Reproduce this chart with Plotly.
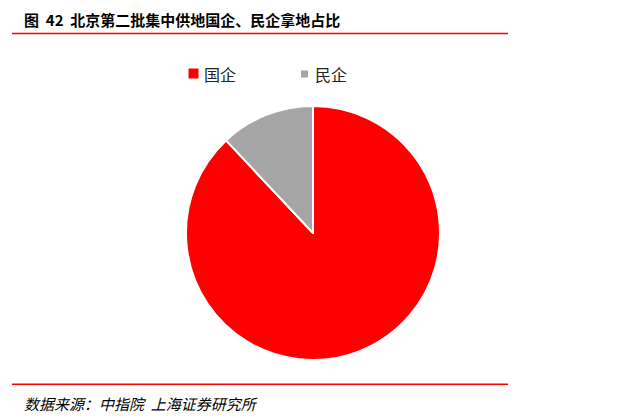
import plotly.graph_objects as go

labels = ["国企", "民企"]
values = [88, 12]
colors = ["#FF0000", "#A5A5A5"]

# The page body has an 8px margin; the figure is sized to fit inside the window.
W, H, OFF = 632, 410, 8
def px(x):
    return (x - OFF) / W
def py(y):
    return 1 - (y - OFF) / H

fig = go.Figure()
fig.add_trace(go.Pie(
    labels=labels, values=values, sort=False, direction="clockwise", rotation=0,
    marker=dict(colors=colors, line=dict(color="white", width=2)),
    textinfo="none", hoverinfo="label+percent", showlegend=False,
    domain=dict(x=[px(186), px(440)], y=[py(360), py(106)]),
))

# manual legend built from labels / colors
legend_sq = [(193.5, 73.5, 10), (304.5, 74, 7)]
legend_tx = [204, 315]
shapes = [
    dict(type="line", xref="paper", yref="paper", x0=px(12), x1=px(508),
         y0=py(33.5), y1=py(33.5), line=dict(color="#FF0000", width=1.5)),
    dict(type="line", xref="paper", yref="paper", x0=px(12), x1=px(508),
         y0=py(384.3), y1=py(384.3), line=dict(color="#FF0000", width=1.5)),
]
annotations = [
    dict(text="<b>图  42  北京第二批集中供地国企、民企拿地占比</b>", xref="paper", yref="paper",
         x=px(22), y=py(19), xanchor="left", yanchor="middle", showarrow=False,
         font=dict(size=15, color="black", family="Noto Sans CJK SC")),
    dict(text="<i>数据来源：中指院  上海证券研究所</i>", xref="paper", yref="paper",
         x=px(22), y=py(403), xanchor="left", yanchor="middle", showarrow=False,
         font=dict(size=15, color="black", family="Noto Sans CJK SC")),
]
for (cx, cy, s), tx, lab, col in zip(legend_sq, legend_tx, labels, colors):
    shapes.append(dict(type="rect", xref="paper", yref="paper",
                       x0=px(cx - s / 2), x1=px(cx + s / 2), y0=py(cy + s / 2), y1=py(cy - s / 2),
                       fillcolor=col, line=dict(width=0)))
    annotations.append(dict(text=lab, xref="paper", yref="paper", x=px(tx - 2), y=py(74),
                            xanchor="left", yanchor="middle", showarrow=False,
                            font=dict(size=16, color="#222", family="Noto Sans CJK SC")))

fig.update_layout(
    width=W, height=H,
    margin=dict(l=0, r=0, t=0, b=0),
    paper_bgcolor="white", plot_bgcolor="white",
    font=dict(family="Noto Sans CJK SC", color="black"),
    showlegend=False,
    shapes=shapes,
    annotations=annotations,
)

fig.write_html("out.html")
